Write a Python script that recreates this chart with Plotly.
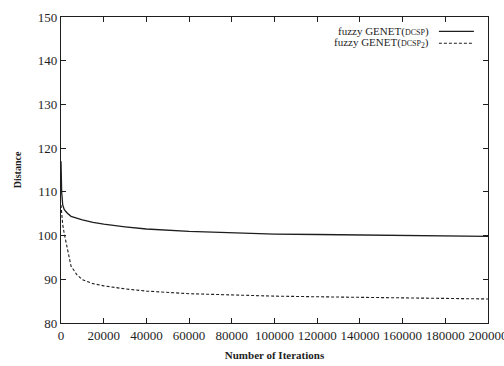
import plotly.graph_objects as go

# Iteration counts sampled along the run
iterations = [0, 300, 800, 1500, 2300, 3000, 4700, 7500, 10000, 15000, 20000,
              30000, 40000, 60000, 80000, 100000, 120000, 140000, 160000,
              180000, 200000]

# Mean distance for each variant
dist_dcsp = [117, 110, 107, 106, 105.5, 105.1, 104.4, 103.9, 103.6, 103.0,
             102.6, 102.0, 101.5, 100.95, 100.6, 100.35, 100.25, 100.15,
             100.05, 99.95, 99.8]
dist_dcsp2 = [107, 105, 102.5, 100.5, 98.7, 97.0, 93.0, 91.0, 89.9, 89.0,
              88.5, 87.8, 87.3, 86.7, 86.35, 86.15, 86.0, 85.85, 85.75,
              85.6, 85.5]

x_ticks = [0, 20000, 40000, 60000, 80000, 100000, 120000, 140000, 160000,
           180000, 200000]
y_ticks = [80, 90, 100, 110, 120, 130, 140, 150]

series_labels = [
    'fuzzy GENET(<span style="font-size:8px">DCSP</span>)',
    'fuzzy GENET(<span style="font-size:8px">DCSP</span><sub>2</sub>)',
]

SERIF = "Liberation Serif, Times New Roman, serif"
INK = "#1e1e1e"

fig = go.Figure()
fig.add_trace(go.Scatter(x=iterations, y=dist_dcsp, mode="lines",
                         line=dict(color=INK, width=1.3), showlegend=False))
fig.add_trace(go.Scatter(x=iterations, y=dist_dcsp2, mode="lines",
                         line=dict(color=INK, width=1.1, dash="3px,2px"),
                         showlegend=False))

# Key in the top-right corner: right-aligned text with the line sample after it
key_rows = [(0.953, "solid"), (0.914, "3px,2px")]
for (ky, dash), label in zip(key_rows, series_labels):
    fig.add_annotation(x=0.866, y=ky, xref="paper", yref="paper",
                       text=label, showarrow=False, xanchor="right",
                       yanchor="middle",
                       font=dict(family=SERIF, size=11, color=INK))
    fig.add_shape(type="line", xref="paper", yref="paper",
                  x0=0.885, x1=0.967, y0=ky, y1=ky,
                  line=dict(color=INK, width=1.1, dash=dash))

axis_common = dict(
    showline=True, linecolor=INK, linewidth=1.3, mirror="ticks",
    ticks="inside", ticklen=5, tickcolor=INK, tickwidth=1,
    showgrid=False, zeroline=False, automargin=False,
    tickfont=dict(family=SERIF, size=13, color=INK),
)

fig.update_xaxes(range=[0, 200000], tickvals=x_ticks,
                 ticktext=[str(v) for v in x_ticks],
                 ticklabeloverflow="allow",
                 title=dict(text="<b>Number of Iterations</b>", standoff=9,
                            font=dict(family=SERIF, size=11, color=INK)),
                 **axis_common)
fig.update_yaxes(range=[80, 150], tickvals=y_ticks,
                 ticktext=[str(v) for v in y_ticks],
                 title=dict(text="<b>Distance</b>", standoff=14,
                            font=dict(family=SERIF, size=10, color=INK)),
                 **axis_common)

fig.update_layout(
    width=504, height=366,
    margin=dict(l=61, r=16, t=17, b=43),
    paper_bgcolor="white", plot_bgcolor="white",
    showlegend=False,
)

fig.write_html("out.html")
